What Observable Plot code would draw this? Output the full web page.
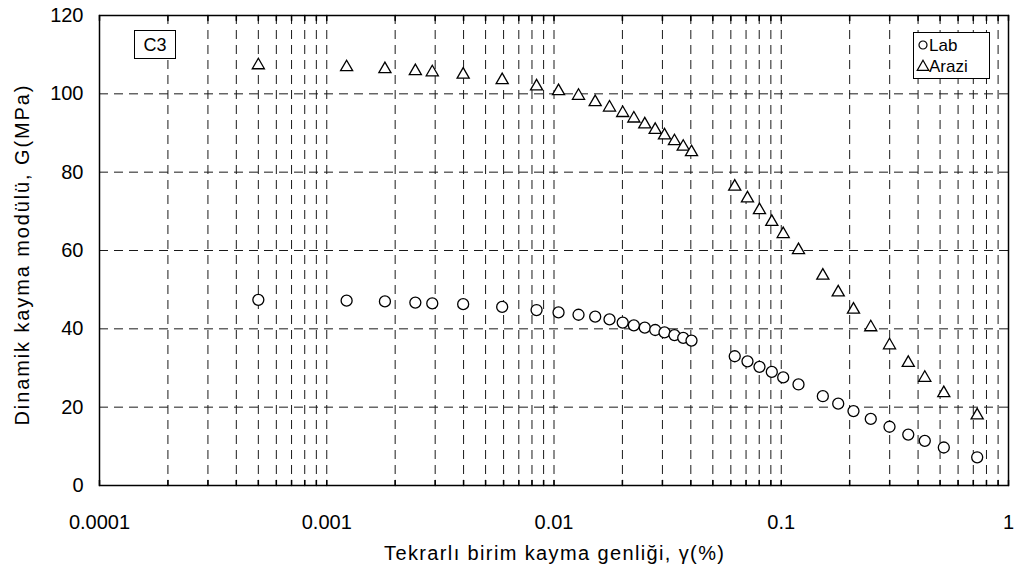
<!DOCTYPE html>
<html>
<head>
<meta charset="utf-8">
<script src="https://cdn.jsdelivr.net/npm/d3@7"></script>
<script src="https://cdn.jsdelivr.net/npm/@observablehq/plot@0.6"></script>
<style>
  html, body { margin: 0; padding: 0; background: #fff; }
  #chart { width: 1014px; height: 574px; }
</style>
</head>
<body>
<div id="chart"></div>
<script>
// ---- data ----
const gamma = [0.0005, 0.001223, 0.001803, 0.002454, 0.002913, 0.003984, 0.005915, 0.008381, 0.01047, 0.01282,
  0.01518, 0.01755, 0.02006, 0.02246, 0.02509, 0.02788, 0.03064, 0.03389, 0.03704, 0.04028,
  0.06242, 0.07102, 0.08021, 0.09087, 0.1020, 0.1191, 0.1524, 0.1781, 0.2079, 0.2477,
  0.2995, 0.3622, 0.4282, 0.5192, 0.7281];
const labG = [47.4, 47.2, 47.0, 46.7, 46.5, 46.3, 45.6, 44.8, 44.2, 43.6,
  43.1, 42.4, 41.6, 40.9, 40.3, 39.7, 39.1, 38.4, 37.7, 37.0,
  33.0, 31.7, 30.3, 29.0, 27.6, 25.8, 22.8, 20.9, 19.0, 17.0,
  15.0, 13.0, 11.4, 9.7, 7.2];
const araziG = [107.3, 106.8, 106.3, 105.8, 105.5, 104.9, 103.5, 101.9, 100.7, 99.5,
  97.9, 96.5, 95.1, 93.7, 92.2, 90.8, 89.4, 87.9, 86.5, 85.1,
  76.3, 73.3, 70.3, 67.3, 64.2, 60.1, 53.6, 49.3, 44.9, 40.4,
  35.8, 31.3, 27.5, 23.6, 17.9];
const seriesNames = ["Lab", "Arazi"];
const xTicks = [0.0001, 0.001, 0.01, 0.1, 1];
const xTickLabels = ["0.0001", "0.001", "0.01", "0.1", "1"];
const yTicks = [0, 20, 40, 60, 80, 100, 120];
const yGrid = [20, 40, 60, 80, 100];
const xTitle = "Tekrarlı birim kayma genliği, γ(%)";
const yTitle = "Dinamik kayma modülü, G(MPa)";
const panelLabel = "C3";

// log positions 1..9 x each decade (grid and minor ticks)
const logPositions = [];
for (const dec of [0.0001, 0.001, 0.01, 0.1]) for (let k = 1; k <= 9; k++) logPositions.push(+(k * dec).toPrecision(3));
const xGrid = logPositions.filter(v => v > 0.0001 && v < 1);

const lab = gamma.map((g, i) => ({g, G: labG[i]}));
const arazi = gamma.map((g, i) => ({g, G: araziG[i]}));

const FONT = "'Liberation Sans', Arial, Helvetica, sans-serif";
const tickLine = {draw(ctx, l) { ctx.moveTo(0, 0); ctx.lineTo(0, -l); }};

const plot = Plot.plot({
  width: 1014,
  height: 574,
  marginLeft: 99,
  marginRight: 6,
  marginTop: 15,
  marginBottom: 89,
  style: {fontFamily: FONT, fontSize: "20px", color: "#000", background: "#fff"},
  x: {type: "log", domain: [0.0001, 1]},
  y: {domain: [0, 120]},
  marks: [
    Plot.ruleX(xGrid, {stroke: "#1a1a1a", strokeWidth: 1, strokeDasharray: "9,6"}),
    Plot.ruleY(yGrid, {stroke: "#1a1a1a", strokeWidth: 1, strokeDasharray: "9,6"}),
    Plot.vector(logPositions.concat([1]), {x: d => d, frameAnchor: "bottom", length: 5, rotate: 0, anchor: "start", shape: tickLine, stroke: "#000"}),
    Plot.vector(logPositions.concat([1]), {x: d => d, frameAnchor: "top", length: 5, rotate: 180, anchor: "start", shape: tickLine, stroke: "#000"}),
    Plot.axisX({ticks: xTicks, tickFormat: d => xTickLabels[xTicks.findIndex(t => Math.abs(t - d) < d * 1e-6)], tickSize: 0, tickPadding: 29, label: null, fontSize: 20}),
    Plot.axisY({ticks: yTicks, tickSize: 0, tickPadding: 16, label: null, fontSize: 20}),
    Plot.text([xTitle], {frameAnchor: "bottom", dy: 68, textAnchor: "middle", lineAnchor: "middle", fontSize: 20, fill: "#000", className: "xtitle"}),
    Plot.text([yTitle], {frameAnchor: "left", dx: -77, dy: 5, rotate: -90, textAnchor: "middle", lineAnchor: "middle", fontSize: 20, fill: "#000", className: "ytitle"}),
    Plot.dot(lab, {x: "g", y: "G", symbol: "circle", r: 5.5, fill: "#fff", stroke: "#000", strokeWidth: 1.3}),
    Plot.dot(arazi, {x: "g", y: "G", symbol: "triangle", r: 4.5, fill: "#fff", stroke: "#000", strokeWidth: 1.3}),
    Plot.frame({stroke: "#000", strokeWidth: 1.5})
  ]
});

document.getElementById("chart").appendChild(plot);

const svg = d3.select(plot);
// stretch the axis titles to the reference's width
svg.select("g.xtitle text").attr("textLength", 340).attr("lengthAdjust", "spacing");
svg.select("g.ytitle text").attr("textLength", 340).attr("lengthAdjust", "spacing");

// panel label and legend boxes (inside the plot frame)
const c3 = svg.append("g").attr("text-anchor", "start");
c3.append("rect").attr("x", 134.5).attr("y", 30.5).attr("width", 41).attr("height", 28)
  .attr("fill", "#fff").attr("stroke", "#000").attr("stroke-width", 1);
c3.append("text").attr("x", 155).attr("y", 51).attr("text-anchor", "middle")
  .attr("font-family", FONT).attr("font-size", 18).text(panelLabel);

const lg = svg.append("g").attr("text-anchor", "start");
lg.append("rect").attr("x", 913.5).attr("y", 32.5).attr("width", 76).attr("height", 46)
  .attr("fill", "#fff").attr("stroke", "#000").attr("stroke-width", 1);
const sym = [d3.symbolCircle, d3.symbolTriangle];
const sizes = [Math.PI * 4 * 4, Math.PI * 4.3 * 4.3];
seriesNames.forEach((name, i) => {
  const cy = 45 + i * 21;
  lg.append("path").attr("d", d3.symbol(sym[i], sizes[i])()).attr("transform", `translate(923,${cy + (i ? 1 : 0)})`)
    .attr("fill", "#fff").attr("stroke", "#000").attr("stroke-width", 1.2);
  lg.append("text").attr("x", 929).attr("y", cy + 6).attr("text-anchor", "start")
    .attr("font-family", FONT).attr("font-size", 17).text(name);
});
</script>
</body>
</html>
